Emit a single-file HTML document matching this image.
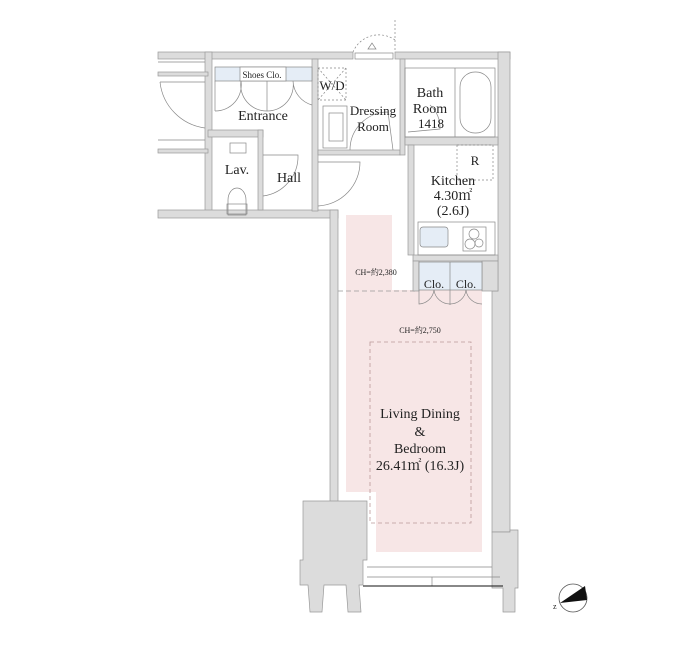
<!DOCTYPE html>
<html><head><meta charset="utf-8"><style>
html,body{margin:0;padding:0;background:#fff;}
svg{display:block;}
text{font-family:"Liberation Serif","Noto Serif CJK SC",serif;fill:#222;}
</style></head><body>
<svg width="700" height="650" viewBox="0 0 700 650" xmlns="http://www.w3.org/2000/svg">
<g fill="#f7e6e6">
<rect x="346" y="215" width="46" height="277"/>
<rect x="346" y="290" width="136" height="202"/>
<rect x="376" y="480" width="106" height="72"/>
</g>
<rect x="370" y="342" width="101" height="181" fill="none" stroke="#b99" stroke-width="0.8" stroke-dasharray="4,3"/>
<line x1="338" y1="291" x2="418" y2="291" stroke="#999" stroke-width="0.7" stroke-dasharray="5,3"/>

<g fill="#dcdcdc" stroke="#999" stroke-width="0.7">
<rect x="158" y="52" width="195" height="7"/>
<rect x="395" y="52" width="115" height="7"/>
<polygon points="498,52 510,52 510,532 492,532 492,291 498,291"/>
<rect x="205" y="52" width="7" height="165"/>
<rect x="158" y="210" width="180" height="8"/>
<rect x="330" y="210" width="8" height="292"/>
<rect x="312" y="59" width="6" height="152"/>
<rect x="208" y="130" width="55" height="7"/>
<rect x="258" y="130" width="5" height="80"/>
<rect x="318" y="150" width="82" height="5"/>
<rect x="400" y="59" width="5" height="96"/>
<rect x="405" y="137" width="93" height="8"/>
<rect x="408" y="145" width="6" height="110"/>
<rect x="413" y="255" width="85" height="6"/>
<rect x="413" y="261" width="6" height="30"/>
<rect x="482" y="261" width="16" height="30"/>
<polygon points="303,501 367,501 367,560 363,560 363,585 359,585 361,612 348,612 346,585 324,585 322,612 310,612 308,585 300,585 300,560 303,560"/>
<polygon points="492,532 510,532 510,530 518,530 518,588 515,588 515,612 503,612 503,588 492,588"/>
<rect x="158" y="72" width="50" height="4"/>
<rect x="158" y="149" width="50" height="4"/>
</g>
<g fill="none" stroke="#888" stroke-width="0.7">
<line x1="158" y1="62" x2="205" y2="62"/>
<line x1="158" y1="140" x2="205" y2="140"/>
<path d="M160 82 A52 52 0 0 0 205 128"/>
<line x1="205" y1="82" x2="160" y2="82"/>
<path d="M215 81 v30 M241 81 A26 26 0 0 1 215 111 M241 81 A26 26 0 0 0 267 111 M267 81 v30 M293 81 A26 26 0 0 1 267 111 M293 81 A26 26 0 0 0 312 105"/>
<rect x="215" y="67" width="97" height="14" fill="#e5edf6"/>
<rect x="240" y="67" width="46" height="14" fill="#fff"/>
<rect x="230" y="143" width="16" height="10"/>
<path d="M228 215 v-15 a9 12 0 0 1 18 0 v15 z"/>
<rect x="227" y="204" width="20" height="10"/>
<path d="M263 155 h35 A40 40 0 0 1 263 196"/>
<path d="M318 162 h42 A44 44 0 0 1 318 206"/>
<rect x="318" y="68" width="28" height="32" stroke-dasharray="2,2"/>
<line x1="318" y1="68" x2="346" y2="100" stroke-dasharray="2,2"/>
<line x1="346" y1="68" x2="318" y2="100" stroke-dasharray="2,2"/>
<rect x="323" y="106" width="24" height="42"/>
<rect x="329" y="113" width="14" height="28"/>
<path d="M350 150 A38 38 0 0 1 388 112 L393 150"/>
<path d="M353 52 A28 28 0 0 1 395 40" stroke-dasharray="2,2"/>
<line x1="395" y1="20" x2="395" y2="52" stroke-dasharray="2,2"/>
<rect x="355" y="53" width="38" height="6" fill="#fff"/>
<path d="M368 49 l4 -6 l4 6 z"/>
<rect x="405" y="68" width="90" height="69"/>
<line x1="455" y1="68" x2="455" y2="137"/>
<rect x="460" y="72" width="31" height="61" rx="15"/>
<path d="M408 132 L440 129 A30 30 0 0 0 430 105"/>
<rect x="457" y="145" width="36" height="35" stroke-dasharray="2,2"/>
<rect x="418" y="222" width="77" height="33"/>
<rect x="420" y="227" width="28" height="20" rx="3" fill="#e5edf6"/>
<rect x="463" y="227" width="23" height="24"/>
<circle cx="474" cy="234" r="5"/><circle cx="470" cy="244" r="5"/><circle cx="479" cy="243" r="4"/>
<rect x="419" y="262" width="63" height="28" fill="#e5edf6"/>
<line x1="450" y1="262" x2="450" y2="305"/>
<path d="M419 290 v14 A16 16 0 0 0 434 290 A16 16 0 0 0 450 304 A16 16 0 0 0 466 290 A16 16 0 0 0 482 304"/>
<line x1="367" y1="567" x2="492" y2="567"/>
<line x1="367" y1="577" x2="500" y2="577"/>
<line x1="432" y1="577" x2="432" y2="586"/>
</g>
<line x1="363" y1="586" x2="503" y2="586" stroke="#111" stroke-width="1"/>
<circle cx="573" cy="598" r="14" fill="#fff" stroke="#555" stroke-width="0.8"/>
<polygon points="560,603 585,586 587,600" fill="#111"/>
<text x="553" y="609" font-size="8">z</text>

<g text-anchor="middle">
<text x="262" y="78" font-size="9">Shoes Clo.</text>
<text x="263" y="120" font-size="14">Entrance</text>
<text x="332" y="90" font-size="13">W/D</text>
<text x="373" y="115" font-size="13">Dressing</text>
<text x="373" y="131" font-size="13">Room</text>
<text x="430" y="97" font-size="14">Bath</text>
<text x="430" y="113" font-size="14">Room</text>
<text x="431" y="128" font-size="13">1418</text>
<text x="475" y="165" font-size="13">R</text>
<text x="453" y="185" font-size="14">Kitchen</text>
<text x="453" y="200" font-size="14">4.30㎡</text>
<text x="453" y="215" font-size="14">(2.6J)</text>
<text x="237" y="174" font-size="14">Lav.</text>
<text x="289" y="182" font-size="14">Hall</text>
<text x="376" y="275" font-size="8">CH=約2,380</text>
<text x="434" y="288" font-size="12">Clo.</text>
<text x="466" y="288" font-size="12">Clo.</text>
<text x="420" y="333" font-size="8">CH=約2,750</text>
<text x="420" y="418" font-size="14">Living Dining</text>
<text x="420" y="436" font-size="14">&amp;</text>
<text x="420" y="453" font-size="14">Bedroom</text>
<text x="420" y="470" font-size="14">26.41㎡ (16.3J)</text>
</g>
</svg>
</body></html>
